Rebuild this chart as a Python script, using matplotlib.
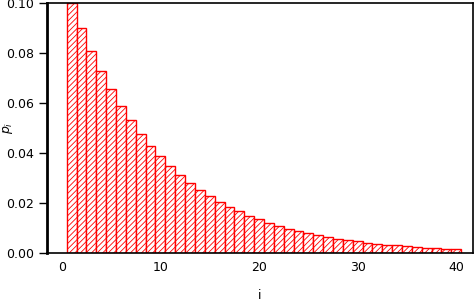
import matplotlib
matplotlib.use("Agg")
import matplotlib.pyplot as plt

plt.rcParams['hatch.color'] = 'red'
plt.rcParams['hatch.linewidth'] = 0.6

# p_i, i = 1..40
i_vals = list(range(1, 41))
p_vals = [0.1000, 0.0900, 0.0810, 0.0729, 0.0656, 0.0590, 0.0531, 0.0478,
          0.0430, 0.0387, 0.0349, 0.0314, 0.0282, 0.0254, 0.0229, 0.0206,
          0.0185, 0.0167, 0.0150, 0.0135, 0.0122, 0.0109, 0.0098, 0.0089,
          0.0080, 0.0072, 0.0065, 0.0058, 0.0052, 0.0047, 0.0042, 0.0038,
          0.0034, 0.0031, 0.0028, 0.0025, 0.0022, 0.0020, 0.0018, 0.0016]
x_ticks = [0, 10, 20, 30, 40]
y_ticks = [0.00, 0.02, 0.04, 0.06, 0.08, 0.10]

fig = plt.figure(figsize=(4.74, 3.02), dpi=100)
ax = fig.add_axes([47 / 474, 49 / 302, 426 / 474, 250 / 302])

ax.bar(i_vals, p_vals, width=1.0, color='white', edgecolor='red',
       linewidth=1.0, hatch='//////')

ax.set_xlim(-1.5, 41.7)
ax.set_ylim(0, 0.10)
ax.set_xticks(x_ticks)
ax.set_yticks(y_ticks)
ax.set_yticklabels([f"{y:.2f}" for y in y_ticks])
ax.tick_params(axis='x', length=0, pad=6, labelsize=9)
ax.tick_params(axis='y', direction='out', length=6, width=1, labelsize=9)
for s in ['top', 'right', 'bottom']:
    ax.spines[s].set_linewidth(1.2)
ax.spines['left'].set_linewidth(2)

ax.set_xlabel('i', fontsize=9)
ax.set_ylabel('$p_i$', fontsize=9)
ax.xaxis.set_label_coords(0.498, -0.145)
ax.yaxis.set_label_coords(-0.075, 0.5)

fig.savefig('out.png', dpi=100)
